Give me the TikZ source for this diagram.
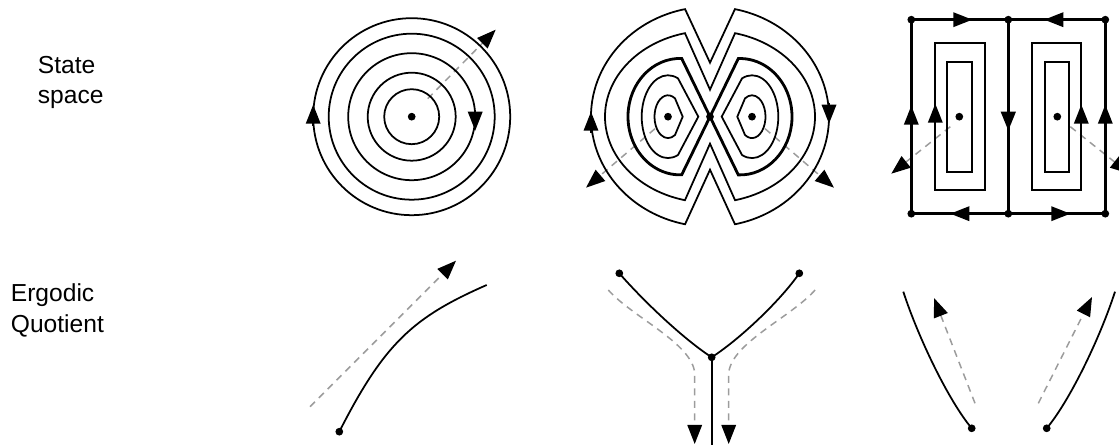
\documentclass[tikz,border=0pt]{standalone}
\usepackage{fontspec}
\setmainfont{Liberation Sans}
\usetikzlibrary{arrows.meta}
\definecolor{grigio}{HTML}{9C9C9C}
\tikzset{
  freccia/.style={-{Triangle[length=0.38cm,width=0.29cm]}},
  tratt/.style={grigio, line width=0.85pt, dash pattern=on 0.14cm off 0.11cm,
    -{Triangle[length=0.38cm,width=0.29cm,color=black]}},
  punto/.style={circle, fill=black, inner sep=0pt, minimum size=0.155cm},
  spessa/.style={line width=1.6pt},
  etichetta/.style={anchor=north west, align=left, inner sep=0pt,
    font=\fontsize{14}{17.6}\selectfont}
}

\begin{document}
\begin{tikzpicture}[x=0.02cm, y=0.02cm, line width=1pt]
    \useasboundingbox (0,0) rectangle (1119,445);
    % etichette righe
    \node[etichetta] (stato) at (37,390) {State\\space};
    \node[etichetta] (quoz) at (10,162) {Ergodic\\Quotient};

    % cerchi concentrici
    \begin{scope}[shift={(411.7,328.3)}]
        \draw[tratt] (16,18) -- (84,87);
        \foreach \r in {98.5,83,63.5,44,27.5}
            \draw (0,0) circle (\r);
        \node[punto] (c1) at (0,0) {};
        \draw[freccia] (-98.5,-9) -- (-98.5,12);
        \draw[freccia] (63.5,6) -- (63.5,-14);
    \end{scope}

    % due fuochi e sella
    \begin{scope}[shift={(710,328.3)}]
        \draw[tratt] (-55,-12) -- (-124,-71);
        \draw[tratt] (55,-12) -- (124,-71);
        \draw (102.1:119 and 110) arc[start angle=102.1, end angle=257.9, x radius=119, y radius=110]
            -- (0,-53) -- (-77.9:119 and 110) arc[start angle=-77.9, end angle=77.9, x radius=119, y radius=110]
            -- (0,54) -- cycle;
        \draw (103.8:105 and 86) arc[start angle=103.8, end angle=256.2, x radius=105, y radius=86]
            -- (0,-27) -- (-76.2:105 and 86) arc[start angle=-76.2, end angle=76.2, x radius=105, y radius=86]
            -- (0,27) -- cycle;
        % separatrice
        \node[punto] (sella) at (0,0) {};
        \draw[spessa] (sella.center) -- (-28.3,58.2) arc[start angle=88.1, end angle=271.9, x radius=52, y radius=58.2] -- cycle;
        \draw[spessa] (sella.center) -- (28.3,-58.2) arc[start angle=-91.9, end angle=91.9, x radius=52, y radius=58.2] -- cycle;
        % orbite interne
        \draw (-11.7,0) -- (-32,38.3) arc[start angle=67.65, end angle=292.35, x radius=26.3, y radius=41.4] -- cycle;
        \draw (11.7,0) -- (32,-38.3) arc[start angle=-112.35, end angle=112.35, x radius=26.3, y radius=41.4] -- cycle;
        \draw (-27.3,0) -- (-35,18.3) arc[start angle=58.8, end angle=301.2, x radius=13.5, y radius=21.4] -- cycle;
        \draw (27.3,0) -- (35,-18.3) arc[start angle=-121.2, end angle=121.2, x radius=13.5, y radius=21.4] -- cycle;
        \node[punto] (f1) at (-42,0) {};
        \node[punto] (f2) at (42,0) {};
        \draw[freccia] (-119,-16) -- (-119,5);
        \draw[freccia] (119,14) -- (119,-7);
    \end{scope}

    % celle rettangolari
    \begin{scope}[shift={(1008.3,328.3)}]
        \draw[tratt] (-58,-10) -- (-117,-57);
        \draw[tratt] (62,-10) -- (121,-57);
        \node[punto] (a1) at (-97,97) {};
        \node[punto] (a2) at (0,97) {};
        \node[punto] (a3) at (97,97) {};
        \node[punto] (b1) at (-97,-97) {};
        \node[punto] (b2) at (0,-97) {};
        \node[punto] (b3) at (97,-97) {};
        \draw[spessa] (a1.center) -- (a3.center) -- (b3.center) -- (b1.center) -- cycle;
        \draw[spessa] (a2.center) -- (b2.center);
        \draw (-73,-73.5) rectangle (-23.5,73.5);
        \draw (-61,-55) rectangle (-36.5,55);
        \draw (23.5,-73.5) rectangle (73,73.5);
        \draw (36.5,-55) rectangle (61,55);
        \node[punto] (m1) at (-49,0) {};
        \node[punto] (m2) at (49,0) {};
        % versi
        \draw[freccia] (-57,97) -- (-36,97);
        \draw[freccia] (57,97) -- (36,97);
        \draw[freccia] (-37,-97) -- (-58,-97);
        \draw[freccia] (41,-97) -- (62,-97);
        \draw[freccia] (-97,-10) -- (-97,11);
        \draw[freccia] (-73,-7) -- (-73,13);
        \draw[freccia, spessa] (0,7) -- (0,-14);
        \draw[freccia] (73,-8) -- (73,12);
        \draw[freccia] (97,-8) -- (97,12);
    \end{scope}

    % quozienti ergodici
    \draw[tratt] (310,38.3) -- (456,184.3);
    \node[punto] (p4) at (339.3,13.3) {};
    \coordinate (e4) at (486.7,160);
    \draw (p4.center) .. controls (384.7,102.4) and (413.4,127.8) .. (e4);

    \draw[tratt] (608.3,155) .. controls (632,128) and (692,102) .. (694.7,72) -- (694.7,1);
    \draw[tratt] (815.1,155) .. controls (791.4,128) and (731.4,102) .. (728.7,72) -- (728.7,1);
    \node[punto] (s5) at (619.3,171.7) {};
    \node[punto] (d5) at (799.3,171.7) {};
    \node[punto] (g5) at (711.7,87.7) {};
    \coordinate (f5) at (711.7,-2);
    \draw (s5.center) .. controls (642.3,145.3) and (682.3,106.8) .. (g5.center)
        .. controls (741.1,106.8) and (781.1,145.3) .. (d5.center);
    \draw (g5.center) -- (f5);

    \draw[tratt] (975,41.7) -- (934,147);
    \draw[tratt] (1038.3,41.7) -- (1092,148);
    \node[punto] (s6) at (971.7,16.7) {};
    \node[punto] (d6) at (1046.7,16.7) {};
    \coordinate (t6a) at (903.3,153.3);
    \coordinate (t6b) at (1115,153.3);
    \draw (t6a) .. controls (918.8,105.8) and (949.2,43.5) .. (s6.center);
    \draw (d6.center) .. controls (1069.2,43.5) and (1099.6,105.8) .. (t6b);
\end{tikzpicture}
\end{document}
